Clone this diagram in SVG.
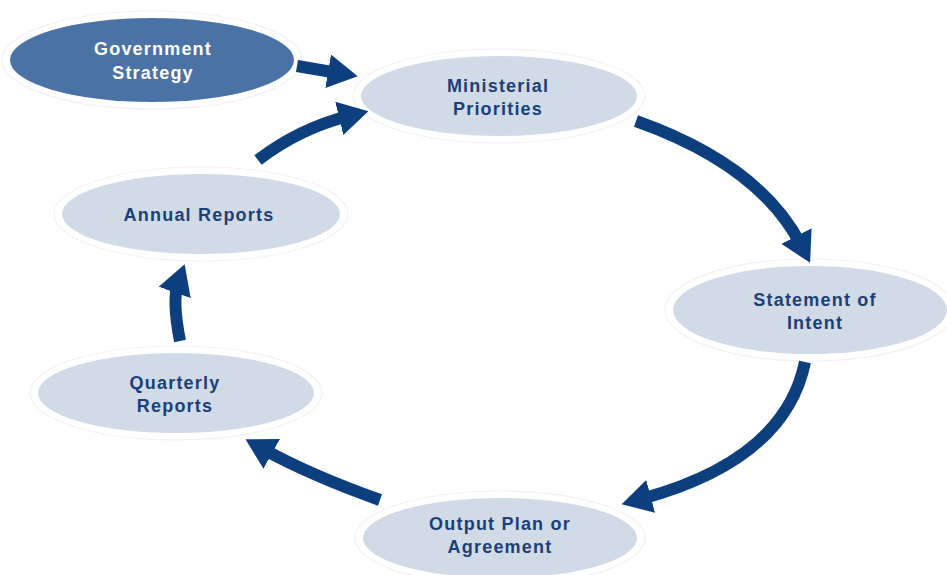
<svg xmlns="http://www.w3.org/2000/svg" width="947" height="575" viewBox="0 0 947 575">
<style>
.node{fill:#d1dbe7;}
.dark{fill:#4b72a4;}
.halo{fill:none;stroke:#f2f2f2;stroke-width:1.2;}
.lbl{font-family:"Liberation Sans",Arial,sans-serif;font-weight:bold;font-size:18px;letter-spacing:1.2px;fill:#1b3f78;text-anchor:middle;}
.lblw{fill:#ffffff;}
.conn{fill:none;stroke:#0d3f7f;stroke-width:12;marker-end:url(#head);}
</style>
<defs>
<marker id="head" markerUnits="userSpaceOnUse" markerWidth="30" markerHeight="34" viewBox="0 0 30 34" refX="10" refY="17" orient="auto">
<path d="M0,0 L30,17 L0,34 z" fill="#0d3f7f"/>
</marker>
</defs>
<rect width="947" height="575" fill="#ffffff"/>
<g id="gov">
<ellipse class="halo" cx="152" cy="60" rx="150" ry="49"/>
<ellipse class="dark" cx="152" cy="60" rx="142" ry="42"/>
<text class="lbl lblw" x="153" y="55">Government</text>
<text class="lbl lblw" x="153" y="79">Strategy</text>
</g>
<g id="ministerial">
<ellipse class="halo" cx="499" cy="96" rx="146" ry="47"/>
<ellipse class="node" cx="499" cy="96" rx="138" ry="40"/>
<text class="lbl" x="498" y="92">Ministerial</text>
<text class="lbl" x="498" y="115">Priorities</text>
</g>
<g id="statement">
<ellipse class="halo" cx="810" cy="310" rx="145" ry="51"/>
<ellipse class="node" cx="810" cy="310" rx="137" ry="44"/>
<text class="lbl" x="815" y="306">Statement of</text>
<text class="lbl" x="815" y="329">Intent</text>
</g>
<g id="output">
<ellipse class="halo" cx="500" cy="538" rx="145" ry="47"/>
<ellipse class="node" cx="500" cy="538" rx="137" ry="40"/>
<text class="lbl" x="500" y="530">Output Plan or</text>
<text class="lbl" x="500" y="553">Agreement</text>
</g>
<g id="quarterly">
<ellipse class="halo" cx="176" cy="393" rx="146" ry="47"/>
<ellipse class="node" cx="176" cy="393" rx="138" ry="40"/>
<text class="lbl" x="175" y="389">Quarterly</text>
<text class="lbl" x="175" y="412">Reports</text>
</g>
<g id="annual">
<ellipse class="halo" cx="201" cy="214" rx="147" ry="47"/>
<ellipse class="node" cx="201" cy="214" rx="139" ry="40"/>
<text class="lbl" x="199" y="221">Annual Reports</text>
</g>
<g id="connectors">
<path class="conn" d="M297,66 L338,73"/>
<path class="conn" d="M258,160 Q300,128 349,116"/>
<path class="conn" d="M636,121 Q760,165 801,245"/>
<path class="conn" d="M805,362 Q785,460 641,499"/>
<path class="conn" d="M380,500 Q310,475 263,449"/>
<path class="conn" d="M180,341 Q172,300 178,283"/>
</g>
</svg>
